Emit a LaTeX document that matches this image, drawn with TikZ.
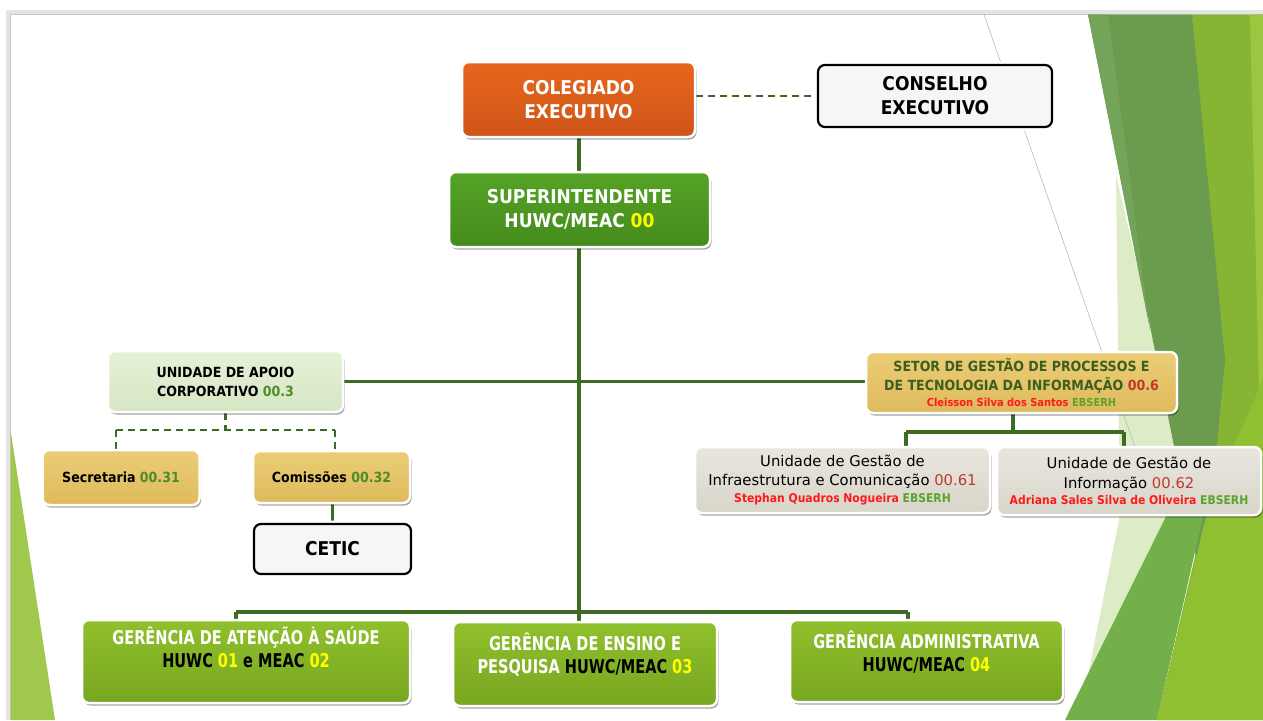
\documentclass[tikz,border=0pt]{standalone}
\usepackage{fontspec}
\setmainfont{DejaVu Sans}
\newfontfamily\cond{DejaVu Sans Condensed}
\newfontfamily\gfont[FakeStretch=0.85]{DejaVu Sans Condensed}
\usetikzlibrary{shadows}
\pgfdeclarelayer{bg}
\pgfsetlayers{bg,main}
\definecolor{orangebox}{HTML}{E6661C}
\definecolor{orangedk}{HTML}{CF5519}
\definecolor{supgreen}{HTML}{55A326}
\definecolor{supgreendk}{HTML}{458B1D}
\definecolor{ggreen}{HTML}{90C02C}
\definecolor{ggreendk}{HTML}{77A621}
\definecolor{gold}{HTML}{ECCD76}
\definecolor{golddk}{HTML}{DEBA5C}
\definecolor{palegreen}{HTML}{E6F1D8}
\definecolor{palegreendk}{HTML}{D6E6C2}
\definecolor{beige}{HTML}{E8E6DE}
\definecolor{beigedk}{HTML}{D8D5CA}
\definecolor{offwhite}{HTML}{F6F6F6}
\definecolor{linegreen}{HTML}{3D6B22}
\definecolor{numgreen}{HTML}{4C8C2C}
\definecolor{numred}{HTML}{C0392B}
\definecolor{namered}{HTML}{FF1A1A}
\definecolor{ebgreen}{HTML}{5CA22F}
\definecolor{setortext}{HTML}{3C5E20}
\definecolor{yel}{HTML}{FFFF00}
\definecolor{framegray}{HTML}{E4E4E4}
\definecolor{fdark}{HTML}{6B9B4C}
\definecolor{fdarklt}{HTML}{74A35A}
\definecolor{fbright}{HTML}{86B534}
\definecolor{fright}{HTML}{9CC63F}
\definecolor{flight}{HTML}{DDEBC6}
\definecolor{fmed}{HTML}{74B04A}
\definecolor{fyel}{HTML}{8FC031}
\definecolor{fleft}{HTML}{9FC84C}
\begin{document}
\begin{tikzpicture}[x=1pt,y=-1pt,
  box/.style={rounded corners=7pt, draw=white, line width=2.5pt, inner sep=0pt, align=center,
    drop shadow={shadow xshift=1.5pt, shadow yshift=-2.5pt, opacity=0.35, fill=black}},
  blackbox/.style={rounded corners=7pt, draw=black, line width=2.2pt, inner sep=0pt, align=center, fill=offwhite,
    drop shadow={shadow xshift=1.5pt, shadow yshift=-2.5pt, opacity=0.35, fill=black},
    preaction={draw=white, line width=7pt}},
  conn/.style={draw=linegreen, line width=3.2pt},
  dashconn/.style={draw=linegreen, line width=2.8pt, dash pattern=on 7pt off 5pt},
  bigtxt/.style={font=\cond\bfseries\fontsize{19}{24}\selectfont},
  midtxt/.style={font=\cond\bfseries\fontsize{14}{19}\selectfont},
  gtxt/.style={font=\gfont\bfseries\fontsize{19}{23}\selectfont, align=center, inner sep=0pt},
  smalltxt/.style={font=\fontsize{14.8}{19.5}\selectfont},
]
\useasboundingbox (0,0) rectangle (1263,720);
\begin{pgfonlayer}{bg}
\fill[white] (0,0) rectangle (1263,720);
% frame
\fill[framegray] (6,10) rectangle (1263,14.5);
\fill[framegray] (6,10) rectangle (10.5,720);
\draw[gray!45, line width=0.6pt] (10.5,720) -- (10.5,14.5) -- (1263,14.5);
% left facet
\fill[fleft] (10.5,430) -- (55,720) -- (10.5,720) -- cycle;
% right facets
\fill[flight] (1116,175) -- (1185,470) -- (1170,515) -- (1087,680) -- (1120,515) -- cycle;
\fill[fbright] (1192,14.5) -- (1263,14.5) -- (1263,720) -- (1157,720) -- (1215,470) -- cycle;
\fill[fright] (1250,14.5) -- (1263,14.5) -- (1263,560) -- cycle;
\fill[fdark] (1088,14.5) -- (1192,14.5) -- (1225,360) -- (1203,592) -- cycle;
\fill[fdarklt] (1088,14.5) -- (1108,14.5) -- (1150,330) -- cycle;
\fill[fmed] (1065,720) -- (1199,450) -- (1218,450) -- (1157,720) -- cycle;
\fill[fyel] (1157,720) -- (1210,500) -- (1263,380) -- (1263,720) -- cycle;
\draw[gray!55, line width=0.6pt] (984,14.5) -- (1150,490);
\end{pgfonlayer}

% nodes
\node[box, top color=orangebox, bottom color=orangedk, minimum width=233pt, minimum height=75pt, bigtxt, text=white]
  (coleg) at (578.5,99.5) {COLEGIADO\\EXECUTIVO};
\node[blackbox, minimum width=234pt, minimum height=62pt, bigtxt]
  (cons) at (935,96) {CONSELHO\\EXECUTIVO};
\node[box, top color=supgreen, bottom color=supgreendk, minimum width=261pt, minimum height=75pt, bigtxt, text=white]
  (super) at (579.5,209.5) {SUPERINTENDENTE\\HUWC/MEAC {\color{yel}00}};
\node[box, top color=palegreen, bottom color=palegreendk, minimum width=235pt, minimum height=61pt, midtxt]
  (unid) at (225.5,381.5) {UNIDADE DE APOIO\\CORPORATIVO {\color{numgreen}00.3}};
\node[box, top color=gold, bottom color=golddk, minimum width=157pt, minimum height=55pt, midtxt]
  (secr) at (121,477.5) {Secretaria {\color{numgreen}00.31}};
\node[box, top color=gold, bottom color=golddk, minimum width=157pt, minimum height=52pt, midtxt]
  (comis) at (331.5,477) {Comissões {\color{numgreen}00.32}};
\node[blackbox, minimum width=157pt, minimum height=50pt, bigtxt]
  (cetic) at (332.5,549) {CETIC};
\node[box, top color=gold, bottom color=golddk, minimum width=311pt, minimum height=61pt, midtxt, text=setortext]
  (setor) at (1021.5,382.5) {SETOR DE GESTÃO DE PROCESSOS E\\DE TECNOLOGIA DA INFORMAÇÃO {\color{numred}00.6}\\[-3pt]
  {\fontsize{11}{13}\selectfont\color{namered}Cleisson Silva dos Santos {\color{ebgreen}EBSERH}}};
\node[box, top color=beige, bottom color=beigedk, minimum width=295pt, minimum height=66pt, smalltxt]
  (ugi) at (842.5,480) {Unidade de Gestão de\\Infraestrutura e Comunicação {\color{numred}00.61}\\[-3pt]
  {\cond\bfseries\fontsize{12}{13}\selectfont\color{namered}Stephan Quadros Nogueira {\color{ebgreen}EBSERH}}};
\node[box, top color=beige, bottom color=beigedk, minimum width=264pt, minimum height=68pt, smalltxt]
  (ugin) at (1129,481) {Unidade de Gestão de\\Informação {\color{numred}00.62}\\[-3pt]
  {\cond\bfseries\fontsize{12}{13}\selectfont\color{namered}Adriana Sales Silva de Oliveira {\color{ebgreen}EBSERH}}};
\node[box, top color=ggreen, bottom color=ggreendk, minimum width=328pt, minimum height=83pt]
  (g1) at (246,661.5) {};
\node[box, top color=ggreen, bottom color=ggreendk, minimum width=264pt, minimum height=84pt]
  (g2) at (585,664) {};
\node[box, top color=ggreen, bottom color=ggreendk, minimum width=273pt, minimum height=82pt]
  (g3) at (926.5,661) {};
\node[gtxt, text=white, anchor=north] (g1t) at (246,627)
  {GERÊNCIA DE ATENÇÃO À SAÚDE\\{\color{black}HUWC} {\color{yel}01} {\color{black}e MEAC} {\color{yel}02}};
\node[gtxt, text=white, anchor=north] (g2t) at (585,633)
  {GERÊNCIA DE ENSINO E\\PESQUISA {\color{black}HUWC/MEAC} {\color{yel}03}};
\node[gtxt, text=white, anchor=north] (g3t) at (926.5,631)
  {GERÊNCIA ADMINISTRATIVA\\{\color{black}HUWC/MEAC} {\color{yel}04}};

% connectors
\begin{pgfonlayer}{bg}
\coordinate (jb) at (579,612);
\coordinate (jl) at (236,612);
\coordinate (jr) at (908,612);
\coordinate (ul) at (116,430);
\coordinate (ur) at (335,430);
\coordinate (sd) at (1013,432);
\coordinate (sl) at (906,432);
\coordinate (sr) at (1124,432);
\draw[conn] (coleg.south -| jb) -- (super.north -| jb);
\draw[dashconn] (coleg.east |- cons.west) -- (cons.west);
\draw[conn] (super.south -| jb) -- (jb);
\draw[conn] (jl) -- (jr);
\draw[conn] (jl) -- (jl |- g1.north);
\draw[conn] (jb) -- (jb |- g2.north);
\draw[conn] (jr) -- (jr |- g3.north);
\draw[conn] (unid.east) -- (unid.east -| setor.west);
\draw[dashconn] (unid.south) -- (unid.south |- ul);
\draw[dashconn] (ul) -- (ur);
\draw[dashconn] (ul) -- (ul |- secr.north);
\draw[dashconn] (ur) -- (ur |- comis.north);
\draw[conn] (comis.south -| cetic.north) -- (cetic.north);
\draw[conn] (sd |- setor.south) -- (sd);
\draw[conn] (sl) -- (sr);
\draw[conn] (sl) -- (sl |- ugi.north);
\draw[conn] (sr) -- (sr |- ugin.north);
\end{pgfonlayer}
\end{tikzpicture}
\end{document}
